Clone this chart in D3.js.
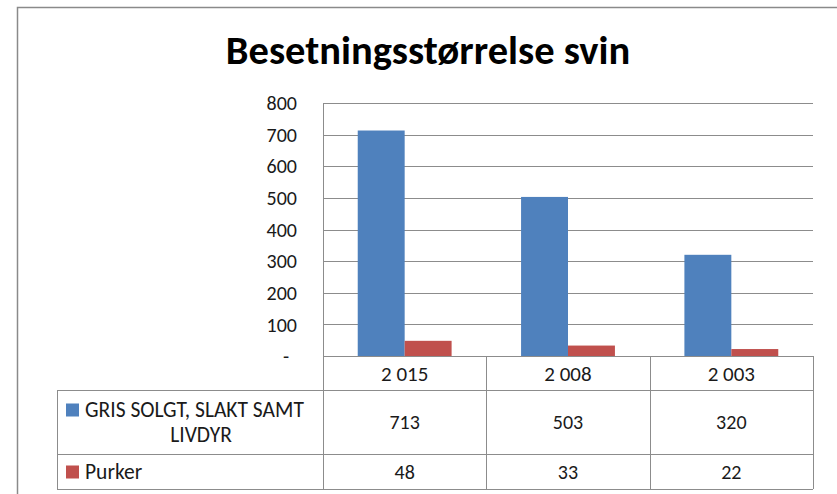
<!DOCTYPE html>
<html>
<head>
<meta charset="utf-8">
<script src="https://cdnjs.cloudflare.com/ajax/libs/d3/7.8.5/d3.min.js"></script>
<style>
  body { margin: 0; background: #fff; }
  svg text { font-family: Carlito, Calibri, Lato, sans-serif; fill: #1a1a1a; }
</style>
</head>
<body>
<svg id="chart" width="837" height="494"></svg>
<script>
// data
var categories = ["2 015", "2 008", "2 003"];
var seriesNames = ["GRIS SOLGT, SLAKT SAMT LIVDYR", "Purker"];
var seriesLines = [["GRIS SOLGT, SLAKT SAMT", "LIVDYR"], ["Purker"]];
var gris = [713, 503, 320];
var purker = [48, 33, 22];
var yTicks = [0, 100, 200, 300, 400, 500, 600, 700, 800];
var colors = ["#4f81bd", "#c0504d"];

var series = [gris, purker];

var svg = d3.select("#chart");
var W = 837, H = 494;

// outer chart frame
svg.append("rect")
  .attr("x", 17.5).attr("y", 7.5)
  .attr("width", W + 20).attr("height", H + 20)
  .style("fill", "none").style("stroke", "#8a8a8a").style("stroke-width", 1.5);

svg.append("text")
  .attr("x", 428).attr("y", 64)
  .attr("text-anchor", "middle")
  .style("font-size", "40.5px").style("font-weight", "bold").style("fill", "#000")
  .text("Besetningsstørrelse svin");

var plot = {left: 323, right: 813, top: 103, bottom: 356};
var legendLeft = 57;
var rowBottoms = [390, 454, 489];

var y = d3.scaleLinear().domain([0, 800]).range([plot.bottom, plot.top]);
var x0 = d3.scaleBand().domain(categories).range([plot.left, plot.right]);
var x1 = d3.scaleBand().domain(d3.range(series.length))
  .range([0, x0.bandwidth()]).paddingOuter(0.74);

// gridlines
svg.append("g").selectAll("line")
  .data(yTicks.slice(1))
  .enter().append("line")
    .attr("x1", plot.left).attr("x2", plot.right)
    .attr("y1", function(d) { return Math.round(y(d)) + 0.5; })
    .attr("y2", function(d) { return Math.round(y(d)) + 0.5; })
    .style("stroke", "#8c8c8c").style("stroke-width", 1);

// y axis line
svg.append("line")
  .attr("x1", plot.left + 0.5).attr("x2", plot.left + 0.5)
  .attr("y1", plot.top).attr("y2", plot.bottom)
  .style("stroke", "#8c8c8c");

// tick labels
svg.append("g").selectAll("text")
  .data(yTicks)
  .enter().append("text")
    .attr("x", function(d) { return d === 0 ? 289 : 297; })
    .attr("y", function(d) { return y(d); })
    .attr("dy", "0.36em")
    .attr("text-anchor", "end")
    .style("font-size", "20px")
    .text(function(d) { return d === 0 ? "-" : d; });

// bars
var groups = svg.append("g").selectAll("g")
  .data(categories)
  .enter().append("g")
    .attr("transform", function(d) { return "translate(" + x0(d) + ",0)"; });

groups.selectAll("rect")
  .data(function(d, i) { return series.map(function(s, k) { return {k: k, v: s[i]}; }); })
  .enter().append("rect")
    .attr("x", function(d) { return x1(d.k); })
    .attr("width", x1.bandwidth())
    .attr("y", function(d) { return y(d.v); })
    .attr("height", function(d) { return plot.bottom - y(d.v); })
    .style("fill", function(d) { return colors[d.k]; });

// data table
var tbl = svg.append("g").style("stroke", "#8c8c8c").style("stroke-width", 1);
var bounds = categories.map(function(c) { return x0(c); }).concat([plot.right]);

// horizontal lines
tbl.append("line").attr("x1", plot.left).attr("x2", plot.right)
  .attr("y1", plot.bottom + 0.5).attr("y2", plot.bottom + 0.5);
rowBottoms.forEach(function(yy) {
  tbl.append("line").attr("x1", legendLeft).attr("x2", plot.right)
    .attr("y1", yy + 0.5).attr("y2", yy + 0.5);
});
// vertical lines
bounds.forEach(function(xx) {
  tbl.append("line").attr("x1", Math.round(xx) + 0.5).attr("x2", Math.round(xx) + 0.5)
    .attr("y1", plot.bottom).attr("y2", rowBottoms[2]);
});
tbl.append("line").attr("x1", legendLeft + 0.5).attr("x2", legendLeft + 0.5)
  .attr("y1", rowBottoms[0]).attr("y2", rowBottoms[2]);

// header labels
svg.append("g").selectAll("text")
  .data(categories)
  .enter().append("text")
    .attr("x", function(d) { return x0(d) + x0.bandwidth() / 2; })
    .attr("y", (plot.bottom + rowBottoms[0]) / 2)
    .attr("dy", "0.36em")
    .attr("text-anchor", "middle")
    .style("font-size", "21px")
    .text(function(d) { return d; });

// value rows
series.forEach(function(s, k) {
  var top = rowBottoms[k], bot = rowBottoms[k + 1];
  var mid = (top + bot) / 2;
  svg.append("g").selectAll("text")
    .data(s)
    .enter().append("text")
      .attr("x", function(d, i) { return x0(categories[i]) + x0.bandwidth() / 2; })
      .attr("y", mid)
      .attr("dy", "0.36em")
      .attr("text-anchor", "middle")
      .style("font-size", "20px")
      .text(function(d) { return d; });

  // legend key + label
  var lines = seriesLines[k];
  var lh = 25;
  var firstY = mid - (lines.length - 1) * lh / 2;
  svg.append("rect")
    .attr("x", 66).attr("y", firstY - 6)
    .attr("width", 13).attr("height", 13)
    .style("fill", colors[k]);
  lines.forEach(function(t, j) {
    svg.append("text")
      .attr("x", j === 0 ? 85 : 201)
      .attr("y", firstY + j * lh)
      .attr("dy", "0.36em")
      .attr("text-anchor", j === 0 ? "start" : "middle")
      .style("font-size", "21.5px")
      .text(t);
  });
});
</script>
</body>
</html>
